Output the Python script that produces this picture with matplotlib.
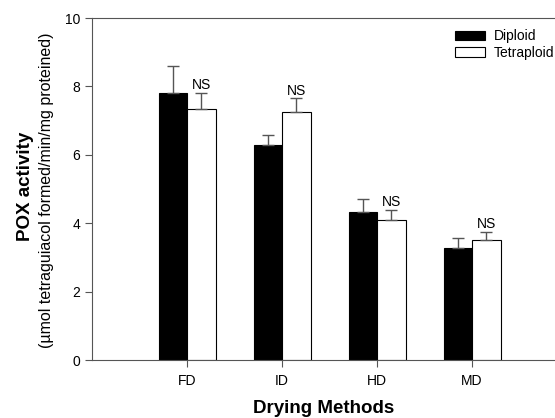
import numpy as np
import matplotlib.pyplot as plt

plt.rcParams['font.family'] = ['Liberation Sans', 'DejaVu Sans']

methods = ["FD", "ID", "HD", "MD"]
diploid = [7.82, 6.30, 4.32, 3.27]
diploid_err = [0.78, 0.29, 0.40, 0.29]
tetraploid = [7.33, 7.24, 4.08, 3.50]
tetraploid_err = [0.49, 0.41, 0.32, 0.24]
marks = ["NS", "NS", "NS", "NS"]

fig = plt.figure(figsize=(5.55, 4.18), dpi=100)
ax = fig.add_axes([92 / 555, 1 - 360 / 418, 463 / 555, 342 / 418])

x = np.arange(1, len(methods) + 1)
w = 0.3
ekw = dict(ecolor="#555555", elinewidth=1, capsize=4, capthick=1)
ax.bar(x - w / 2, diploid, w, color="black", edgecolor="black", linewidth=0.8,
       yerr=[np.zeros(4), diploid_err], error_kw=ekw, label="Diploid")
ax.bar(x + w / 2, tetraploid, w, color="white", edgecolor="black", linewidth=0.8,
       yerr=[np.zeros(4), tetraploid_err], error_kw=ekw, label="Tetraploid")

for xi, v, e, m in zip(x, tetraploid, tetraploid_err, marks):
    ax.text(xi + w / 2, v + e + 0.02, m, ha="center", va="bottom", fontsize=10)

ax.set_xlim(0, 463 / 95)
ax.set_ylim(0, 10)
ax.set_xticks(x)
ax.set_xticklabels(methods, fontsize=10)
ax.set_yticks(range(0, 11, 2))
ax.tick_params(axis="y", labelsize=10, direction="out", length=5, color="#555555")
ax.tick_params(axis="x", direction="out", length=5, color="#555555", pad=5)
for s in ["left", "bottom", "top"]:
    ax.spines[s].set_color("#555555")
ax.spines["right"].set_visible(False)

ax.set_xlabel("Drying Methods", fontsize=13.5, fontweight="bold", labelpad=9)
fig.text(25 / 555, 1 - 186 / 418, "POX activity", rotation=90, ha="center", va="center",
         fontsize=13.5, fontweight="bold")
fig.text(47 / 555, 1 - 190 / 418, "(\u00b5mol tetraguiacol formed/min/mg proteined)", rotation=90,
         ha="center", va="center", fontsize=11.5)

ax.legend(loc="upper right", bbox_to_anchor=(1.019, 0.995), frameon=False, fontsize=10,
          handlelength=2.2, handleheight=0.7, borderaxespad=0.3, labelspacing=0.15,
          handletextpad=0.6)

fig.savefig("out.png", dpi=100)
